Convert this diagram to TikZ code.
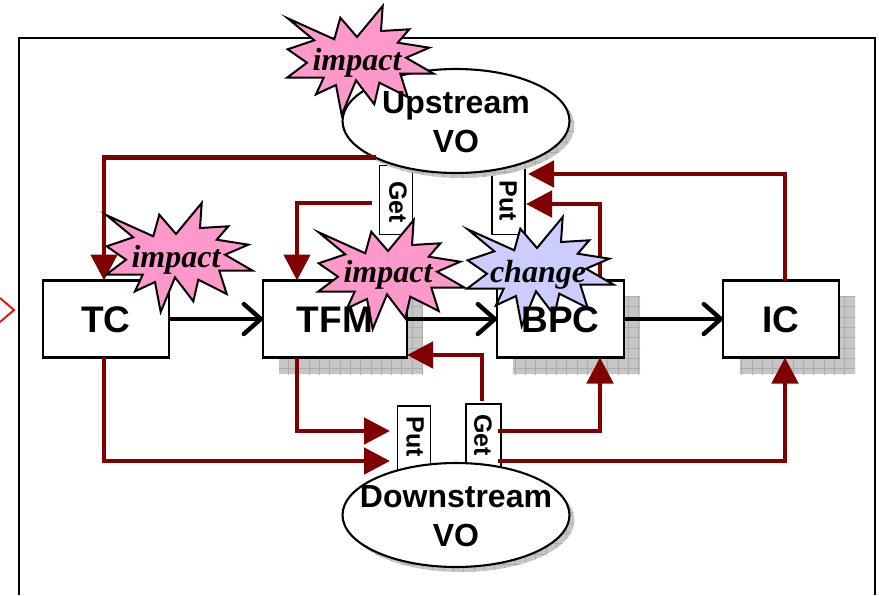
\documentclass[tikz,border=0pt]{standalone}
\usepackage{fontspec}
\setmainfont{Liberation Sans}
\newfontfamily\burstfont{Liberation Serif}
\usepackage{xcolor}
\usetikzlibrary{arrows.meta,shapes.geometric,patterns.meta}
\definecolor{flowred}{HTML}{800000}
\definecolor{burstpink}{HTML}{FF99CC}
\definecolor{burstblue}{HTML}{CCCCFF}
\definecolor{shadegray}{HTML}{C6C6C6}
\definecolor{gridgray}{HTML}{ACACAC}

\begin{document}
\begin{tikzpicture}[
    x=1pt, y=-1pt,
    box/.style={draw, line width=2.1pt, fill=white, minimum height=77pt, inner sep=0pt, outer sep=0pt},
    vo/.style={draw, ellipse, line width=2.1pt, fill=white, minimum width=227pt, minimum height=104pt, inner sep=0pt, outer sep=0pt},
    tag/.style={draw, line width=1.9pt, fill=white, minimum width=33pt, inner sep=0pt, outer sep=0pt},
    shade/.style={fill=shadegray, postaction={pattern={Lines[angle=0,distance=10.3pt,line width=.5pt]}, pattern color=gridgray}, postaction={pattern={Lines[angle=90,distance=10.3pt,line width=.5pt]}, pattern color=gridgray}, inner sep=0pt, outer sep=0pt},
    lbl/.style={font=\bfseries\fontsize{37}{38}\selectfont},
    volbl/.style={font=\bfseries\fontsize{32}{39}\selectfont, align=center},
    taglbl/.style={font=\bfseries\fontsize{25}{25}\selectfont, rotate=-90},
    bursttxt/.style={font=\burstfont\bfseries\itshape\fontsize{32}{32}\selectfont},
    flow/.style={line width=4.8pt, flowred, -{Triangle[length=26pt,width=26pt]}},
    call/.style={line width=4.4pt, -{Straight Barb[length=17pt,width=30pt,round]}},
    burst/.pic={
        \draw[line width=2pt, miter limit=20, fill=#1]
            (-69.3,-42.7) -- (-22.7,-21.7) -- (-16.7,-43.3) -- (0,-24) -- (25.7,-55) -- (24,-30)
            -- (52.3,-31.7) -- (40.7,-18.3) -- (72.3,-13.3) -- (49,-3.3) -- (76.7,12.7) -- (43.3,12.7)
            -- (50.7,36) -- (22.3,21.7) -- (17.3,43.3) -- (-1,19.3) -- (-15.3,54) -- (-21,24)
            -- (-41,33.3) -- (-33.3,16.7) -- (-70,16.7) -- (-50,1.7) -- (-69.3,-11.7) -- (-42.7,-20.7) -- cycle;
    },
]
\useasboundingbox (0,0) rectangle (879,595);

% frame and the cut-off mark on the left
\draw[line width=2.1pt] (19,595) -- (19,38) -- (875,38) -- (875,595);
\draw[red, line width=1.8pt] (0,298) -- (14,310) -- (0,322);

% shadows
\node[shade, minimum width=144pt, minimum height=78pt] (tfmshade) at (351,335) {};
\node[shade, minimum width=127pt, minimum height=78pt] (bpcshade) at (576.5,335) {};
\node[shade, minimum width=115pt, minimum height=78pt] (icshade) at (797.5,335) {};

% boxes
\node[box, minimum width=126pt] (tc) at (106,319) {};
\node[box, minimum width=144pt] (tfm) at (335,319) {};
\node[box, minimum width=127pt] (bpc) at (560.5,319) {};
\node[box, minimum width=116pt] (ic) at (781,319) {};

% tags, the ellipses sit on top of them
\node[tag, minimum height=69pt] (getup) at (396,200) {};
\node[tag, minimum height=69pt] (putup) at (508.5,200) {};
\node[tag, minimum height=64pt] (putdn) at (414,438) {};
\node[tag, minimum width=35pt, minimum height=66pt] (getdn) at (483.5,437) {};

\node[shade, ellipse, minimum width=227pt, minimum height=104pt] (upshade) at (461,126) {};
\node[vo] (upvo) at (456,121) {};
\node[shade, ellipse, minimum width=227pt, minimum height=104pt] (dnshade) at (461,520) {};
\node[vo] (dnvo) at (456,515) {};

\coordinate (getupout) at (372,203);
\coordinate (putupa) at (528,174);
\coordinate (putupb) at (526,204);
\coordinate (putdna) at (390,431);
\coordinate (putdnb) at (390,461);
\coordinate (getdna) at (498,431);
\coordinate (getdnb) at (498,461);
\coordinate (getdnout) at (482,401);

% black calls
\draw[call] (tc.east) -- (tfm.west);
\draw[call] (tfm.east) -- (bpc.west);
\draw[call] (bpc.east) -- (ic.west);

% red flows
\draw[flow] (upvo.south west) -| ([xshift=-2pt]tc.north);
\draw[flow] (getupout) -| ([xshift=-38pt]tfm.north);
\draw[flow] ([xshift=4pt]ic.north) |- (putupa);
\draw[flow] ([xshift=39.5pt]bpc.north) |- (putupb);
\draw[flow] ([xshift=-2pt]tc.south) |- (putdnb);
\draw[flow] ([xshift=-38pt]tfm.south) |- (putdna);
\draw[flow] (getdna) -| ([xshift=39.5pt]bpc.south);
\draw[flow] (getdnb) -| ([xshift=4pt]ic.south);
\draw[flow] (getdnout) |- ([yshift=-36pt]tfm.east);

% bursts
\pic at (357,61) {burst=burstpink};
\pic at (176,258) {burst=burstpink};
\pic at (388,275) {burst=burstpink};
\pic at (537,272) {burst=burstblue};
\node[bursttxt] (impacta) at (357,63) {impact};
\node[bursttxt] (impactb) at (176,260) {impact};
\node[bursttxt] (impactc) at (388,275) {impact};
\node[bursttxt] (changea) at (538,275) {change};

% text goes over the bursts
\node[lbl] (tctxt) at (106,320) {TC};
\node[lbl] (tfmtxt) at (335,320) {TFM};
\node[lbl] (bpctxt) at (560.5,320) {BPC};
\node[lbl] (ictxt) at (781,320) {IC};
\node[volbl] (uptxt) at (456,122) {Upstream\\VO};
\node[volbl] (dntxt) at (456,516) {Downstream\\VO};
\node[taglbl] (getuptxt) at (398,202) {Get};
\node[taglbl] (putuptxt) at (508,201) {Put};
\node[taglbl] (putdntxt) at (415,437) {Put};
\node[taglbl] (getdntxt) at (483,435) {Get};

\end{tikzpicture}
\end{document}
